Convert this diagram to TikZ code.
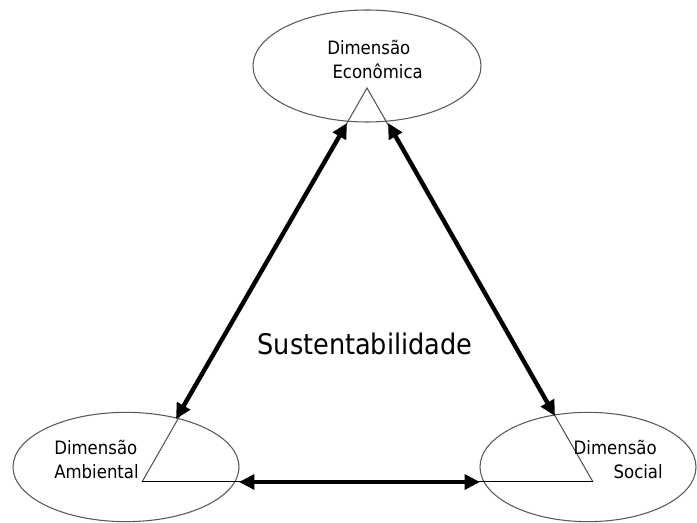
\documentclass[tikz,border=0pt]{standalone}
\usepackage{fontspec}
\setmainfont{DejaVu Sans Condensed}
\usetikzlibrary{shapes.geometric,arrows.meta}

\begin{document}
\begin{tikzpicture}[x=0.75pt,y=-0.75pt,
  dim/.style={draw=black!65,line width=0.8pt,ellipse,inner sep=0pt},
  rot/.style={inner sep=0pt,font=\fontsize{13.8}{18}\selectfont},
  seta/.style={line width=3.3pt,{Triangle[length=11.5pt,width=11pt]}-{Triangle[length=11.5pt,width=11pt]}}]
  \useasboundingbox (0,0) rectangle (697,523);
  % as tres dimensoes
  \node[dim,minimum width=171pt,minimum height=84pt] (eco) at (367,66) {};
  \node[dim,minimum width=169.5pt,minimum height=82pt] (amb) at (126,467) {};
  \node[dim,minimum width=162pt,minimum height=82pt] (soc) at (588,467) {};
  % triangulo
  \coordinate (topo) at (367,88);
  \coordinate (esq) at (142,482);
  \coordinate (dir) at (593,482);
  \draw[black!70,line width=0.75pt] (esq) -- (topo) -- (dir);
  \draw[black,line width=0.75pt] (esq) -- (dir);
  % pontas das setas
  \coordinate (ecoE) at (347,123);
  \coordinate (ambN) at (176,419);
  \coordinate (ecoD) at (388,123);
  \coordinate (socN) at (555,416);
  \coordinate (ambD) at (239,482);
  \coordinate (socE) at (480,482);
  \draw[seta] (ecoE) -- (ambN);
  \draw[seta] (ecoD) -- (socN);
  \draw[seta] (ambD) -- (socE);
  % textos
  \node[rot,anchor=west,align=left] (ecoTxt) at (327,59) {Dimensão\\~Econômica};
  \node[rot,anchor=west,align=left] (ambTxt) at (54,459) {Dimensão\\Ambiental};
  \node[rot,anchor=east,align=right] (socTxt) at (663,459) {Dimensão\hspace*{4.5pt}\\Social};
  \node[inner sep=0pt,font=\fontsize{21.3}{26}\selectfont] (sust) at (365,344) {Sustentabilidade};
\end{tikzpicture}
\end{document}
